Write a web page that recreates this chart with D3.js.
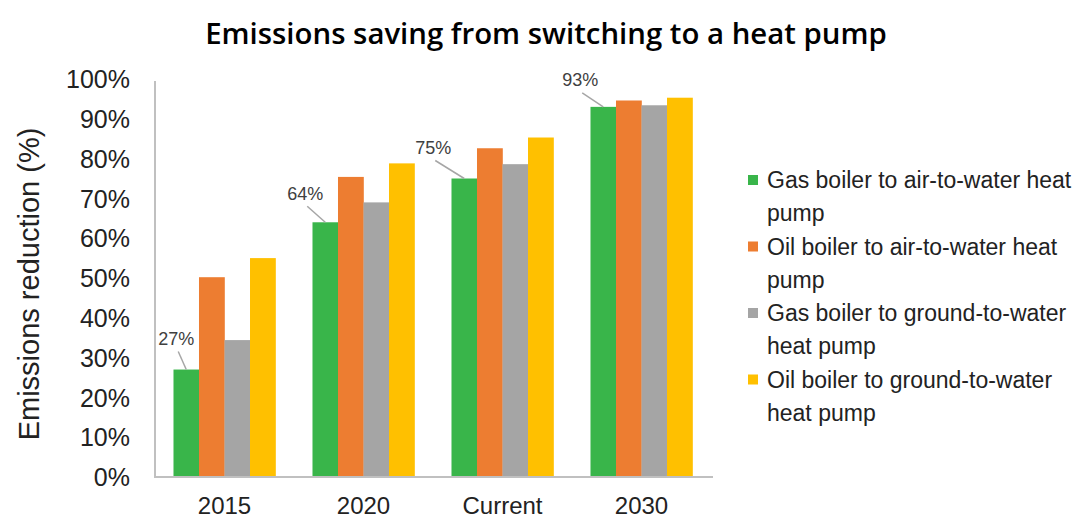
<!DOCTYPE html>
<html>
<head>
<meta charset="utf-8">
<script src="https://cdn.jsdelivr.net/npm/d3@7"></script>
<style>
  html, body { margin: 0; padding: 0; background: #fff; }
  svg { display: block; }
</style>
</head>
<body>
<svg id="chart" width="1081" height="522"></svg>
<script>
// ---- Data ----
const categories = ["2015", "2020", "Current", "2030"];
const seriesNames = [
  "Gas boiler to air-to-water heat pump",
  "Oil boiler to air-to-water heat pump",
  "Gas boiler to ground-to-water heat pump",
  "Oil boiler to ground-to-water heat pump"
];
const gasAirValues    = [27, 64, 75, 93];
const oilAirValues    = [50.2, 75.4, 82.6, 94.6];
const gasGroundValues = [34.4, 69, 78.6, 93.4];
const oilGroundValues = [55, 78.8, 85.3, 95.3];
const yTicks = [0, 10, 20, 30, 40, 50, 60, 70, 80, 90, 100];
const seriesColors = ["#39B54A", "#ED7D31", "#A5A5A5", "#FFC000"];
const legendLines = [
  ["Gas boiler to air-to-water heat", "pump"],
  ["Oil boiler to air-to-water heat", "pump"],
  ["Gas boiler to ground-to-water", "heat pump"],
  ["Oil boiler to ground-to-water", "heat pump"]
];
// label offsets (position tweaks for the data labels of the first series)
const labelOffsets = [[-10, -31], [-20, -29], [-31, -31], [-23, -27]];

const allSeries = [gasAirValues, oilAirValues, gasGroundValues, oilGroundValues];

const svg = d3.select("#chart");
const x0 = 155, x1 = 711, yBase = 477, yTop = 79;

const x = d3.scaleBand().domain(categories).range([x0, x1]).paddingInner(0.266).paddingOuter(0.133);
const xs = d3.scaleBand().domain(d3.range(4)).range([0, x.bandwidth()]).padding(0);
const y = d3.scaleLinear().domain([0, 100]).range([yBase, yTop]);

// Title
const title = svg.append("text")
  .attr("x", 546).attr("y", 44)
  .attr("text-anchor", "middle")
  .style("font-family", "'Open Sans', 'Noto Sans', sans-serif")
  .style("font-weight", 600)
  .style("font-size", "26px")
  .attr("fill", "#000")
  .text("Emissions saving from switching to a heat pump");
const tw = title.node().getComputedTextLength();
title.style("font-size", (26 * 682 / tw) + "px");

// Bars
const groups = svg.append("g").selectAll("g")
  .data(categories)
  .join("g")
  .attr("transform", d => `translate(${x(d)},0)`);

groups.selectAll("rect")
  .data((c, ci) => allSeries.map((s, si) => ({ si, v: s[ci] })))
  .join("rect")
  .attr("x", d => xs(d.si))
  .attr("width", xs.bandwidth() + 0.3)
  .attr("y", d => y(d.v))
  .attr("height", d => y(0) - y(d.v))
  .attr("fill", d => seriesColors[d.si]);

// Axes lines
const axisColor = "#C0C0C0";
svg.append("line").attr("x1", x0).attr("x2", x0).attr("y1", yTop + 2).attr("y2", yBase)
  .attr("stroke", axisColor).attr("stroke-width", 2);
svg.append("line").attr("x1", x0 - 1).attr("x2", x1 + 2).attr("y1", yBase).attr("y2", yBase)
  .attr("stroke", axisColor).attr("stroke-width", 2);

// Y tick labels via axis
const yAxis = d3.axisLeft(y).tickValues(yTicks).tickFormat(d => d + "%").tickSize(0).tickPadding(0);
const yG = svg.append("g").attr("transform", "translate(130,0)").call(yAxis);
yG.select(".domain").remove();
yG.selectAll("text")
  .style("font-family", "'Liberation Sans', Arial, sans-serif")
  .style("font-size", "25px")
  .attr("fill", "#222")
  .attr("dy", "0.35em");

// X labels via axis
const xAxis = d3.axisBottom(x).tickSize(0).tickPadding(0);
const xG = svg.append("g").attr("transform", `translate(0,${yBase})`).call(xAxis);
xG.select(".domain").remove();
xG.selectAll("text")
  .style("font-family", "'Liberation Sans', Arial, sans-serif")
  .style("font-size", "24px")
  .attr("fill", "#222")
  .attr("dy", "0")
  .attr("y", 37);

// Y axis title
svg.append("text")
  .attr("transform", "translate(39,284) rotate(-90)")
  .attr("text-anchor", "middle")
  .style("font-family", "'Liberation Sans', Arial, sans-serif")
  .style("font-size", "29px")
  .attr("fill", "#222")
  .text("Emissions reduction (%)");

// Data labels with leader lines for the first series
categories.forEach((c, i) => {
  const bx = x(c) + xs(0) + xs.bandwidth() / 2;
  const by = y(gasAirValues[i]);
  const [dx, dy] = labelOffsets[i];
  const lx = bx + dx, ly = by + dy;
  svg.append("line")
    .attr("x1", lx + 2).attr("y1", ly + 13)
    .attr("x2", bx).attr("y2", by)
    .attr("stroke", "#A6A6A6").attr("stroke-width", 1.5);
  svg.append("text")
    .attr("x", lx).attr("y", ly)
    .attr("dy", "0.35em")
    .attr("text-anchor", "middle")
    .style("font-family", "'Liberation Sans', Arial, sans-serif")
    .style("font-size", "18px")
    .attr("fill", "#404040")
    .text(Math.round(gasAirValues[i]) + "%");
});

// Legend
const legend = svg.append("g");
legendLines.forEach((lines, i) => {
  const ly = 180 + i * 66.5;
  legend.append("rect")
    .attr("x", 748).attr("y", ly - 5)
    .attr("width", 10).attr("height", 10)
    .attr("fill", seriesColors[i]);
  const t = legend.append("text")
    .attr("x", 767).attr("y", ly)
    .style("font-family", "'Liberation Sans', Arial, sans-serif")
    .style("font-size", "23px")
    .attr("fill", "#222");
  lines.forEach((ln, k) => {
    t.append("tspan").attr("x", 767).attr("y", ly + k * 33).attr("dy", "0.35em").text(ln);
  });
});
</script>
</body>
</html>
